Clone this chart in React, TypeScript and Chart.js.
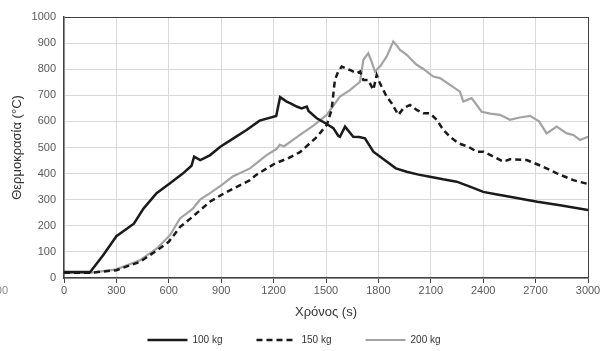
import React, { useEffect, useRef } from "react";
import { Chart, registerables } from "chart.js";

Chart.register(...registerables);

const seriesLabels = ["100 kg", "150 kg", "200 kg"];
const xTicks = [0, 300, 600, 900, 1200, 1500, 1800, 2100, 2400, 2700, 3000];

const t100 = [0, 150, 225, 300, 400, 455, 530, 605, 680, 730, 745, 780, 835, 895, 970, 1045, 1120, 1215, 1237, 1275, 1300, 1332, 1360, 1390, 1400, 1447, 1504, 1542, 1570, 1580, 1609, 1656, 1690, 1723, 1771, 1847, 1900, 1962, 2030, 2095, 2170, 2248, 2324, 2400, 2480, 2553, 2630, 2710, 2840, 3000];
const T100 = [23, 23, 88, 160, 208, 266, 325, 362, 400, 430, 465, 452, 470, 503, 535, 567, 603, 621, 693, 676, 668, 657, 650, 657, 640, 612, 590, 574, 545, 541, 580, 541, 540, 535, 484, 446, 420, 407, 396, 388, 378, 369, 350, 330, 320, 311, 302, 292, 279, 260];

const t150 = [0, 150, 300, 435, 530, 600, 665, 735, 780, 835, 900, 970, 1065, 1100, 1208, 1280, 1351, 1447, 1504, 1532, 1551, 1570, 1590, 1637, 1676, 1695, 1714, 1742, 1771, 1790, 1809, 1847, 1876, 1914, 1943, 1981, 2019, 2057, 2095, 2134, 2172, 2210, 2258, 2315, 2363, 2400, 2460, 2515, 2553, 2649, 2744, 2821, 2916, 3000];
const T150 = [20, 20, 30, 62, 105, 139, 196, 234, 260, 292, 318, 343, 375, 395, 439, 458, 482, 540, 586, 644, 759, 791, 810, 797, 785, 791, 759, 759, 721, 778, 746, 695, 670, 625, 650, 663, 644, 631, 631, 606, 567, 541, 516, 503, 484, 484, 465, 446, 455, 452, 426, 401, 375, 360];

const t200 = [0, 150, 300, 435, 530, 607, 664, 736, 779, 836, 900, 969, 1065, 1160, 1218, 1235, 1260, 1351, 1430, 1504, 1580, 1637, 1695, 1714, 1742, 1761, 1780, 1809, 1847, 1885, 1900, 1924, 1962, 2019, 2060, 2114, 2153, 2210, 2267, 2286, 2334, 2391, 2440, 2496, 2553, 2610, 2668, 2720, 2763, 2821, 2878, 2916, 2954, 3000];
const T200 = [20, 20, 33, 68, 112, 164, 228, 265, 300, 325, 355, 390, 420, 471, 495, 510, 505, 548, 585, 625, 695, 720, 752, 836, 861, 829, 791, 810, 848, 906, 895, 874, 855, 817, 800, 772, 766, 740, 714, 676, 689, 637, 630, 625, 606, 615, 621, 600, 554, 580, 554, 548, 529, 541];

const pts = (xs: number[], ys: number[]) => xs.map((x, i) => ({ x, y: ys[i] }));

const FONT = "'Liberation Sans', Arial, sans-serif";
const DARK = "#404040";
const GRID = "#d9d9d9";

export default function App() {
  const ref = useRef<HTMLCanvasElement | null>(null);
  useEffect(() => {
    if (!ref.current) return;
    const chart = new Chart(ref.current, {
      type: "line",
      data: {
        datasets: [
          { label: seriesLabels[0], data: pts(t100, T100), borderColor: "#1a1a1a", borderWidth: 2.5, pointRadius: 0, fill: false, tension: 0 },
          { label: seriesLabels[1], data: pts(t150, T150), borderColor: "#1a1a1a", borderWidth: 2.5, borderDash: [6, 4], pointRadius: 0, fill: false, tension: 0 },
          { label: seriesLabels[2], data: pts(t200, T200), borderColor: "#a3a3a3", borderWidth: 2.2, pointRadius: 0, fill: false, tension: 0 },
        ],
      },
      options: {
        responsive: false,
        animation: false,
        layout: { padding: { left: 0, right: 21, top: 17, bottom: -4 } },
        plugins: {
          tooltip: { enabled: false },
          legend: {
            position: "bottom",
            labels: {
              usePointStyle: true,
              pointStyle: "line",
              pointStyleWidth: 40,
              padding: 34,
              color: "#333",
              font: { family: FONT, size: 10 },
              generateLabels: (c: any) => {
                const items = Chart.defaults.plugins.legend.labels.generateLabels(c);
                return items.map((it: any) => {
                  const ds: any = c.data.datasets[it.datasetIndex];
                  return { ...it, lineDash: ds.borderDash || [], lineWidth: ds.borderWidth, strokeStyle: ds.borderColor, fillStyle: ds.borderColor };
                });
              },
            },
          },
        },
        scales: {
          x: {
            type: "linear",
            min: 0,
            max: 3000,
            afterBuildTicks: (s: any) => { s.ticks = xTicks.map((v) => ({ value: v })); },
            afterFit: (s: any) => { s.height = 23; },
            ticks: { color: "#595959", font: { family: FONT, size: 11 }, padding: 1, maxRotation: 0, autoSkip: false, callback: (v: any) => String(v) },
            grid: {
              color: (c: any) => (c.tick && c.tick.value === 3000 ? DARK : GRID),
              lineWidth: 1,
              tickLength: 5,
              tickColor: DARK,
            },
            border: { color: DARK, width: 1.5 },
            title: { display: true, text: "Χρόνος (s)", color: "#333", font: { family: FONT, size: 13 }, padding: { top: 0, bottom: -19 } },
          },
          y: {
            min: 0,
            max: 1000,
            ticks: { stepSize: 100, color: "#595959", font: { family: FONT, size: 11 }, padding: 8, callback: (v: any) => String(v) },
            afterFit: (s: any) => { s.width = 64; },
            grid: {
              color: (c: any) => (c.tick && c.tick.value === 1000 ? DARK : GRID),
              lineWidth: 1,
              drawTicks: false,
            },
            border: { color: DARK, width: 1.5 },
            title: { display: true, text: "Θερμοκρασία (°C)", color: "#333", font: { family: FONT, size: 13 }, padding: { top: 10, bottom: 0 } },
          },
        },
      },
      plugins: [
        {
          id: "strayText",
          afterDraw: (c: any) => {
            const ctx = c.ctx;
            ctx.save();
            ctx.fillStyle = "#888";
            ctx.font = `11px ${FONT}`;
            ctx.textAlign = "right";
            ctx.textBaseline = "middle";
            ctx.fillText("300", 8, 291);
            ctx.restore();
          },
        },
      ],
    });
    return () => chart.destroy();
  }, []);
  return (
    <div style={{ position: "absolute", left: 0, top: 0, width: 609, height: 351, background: "#fff" }}>
      <canvas ref={ref} width={609} height={351} />
    </div>
  );
}
